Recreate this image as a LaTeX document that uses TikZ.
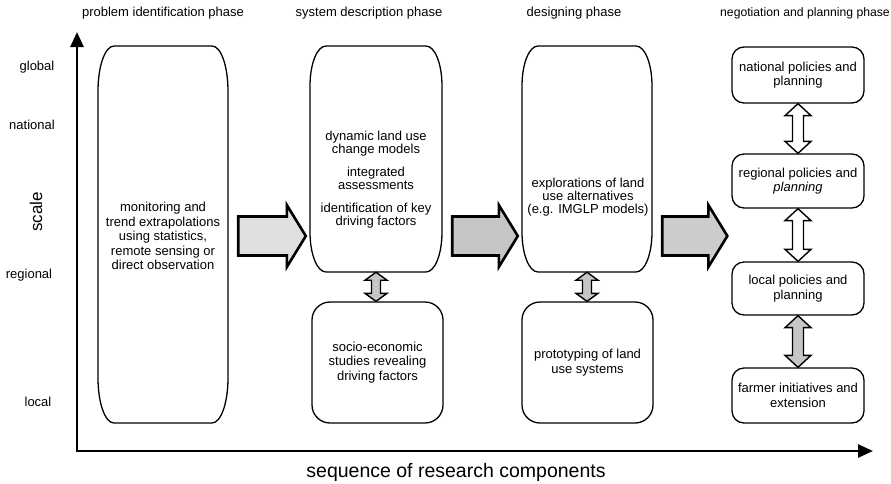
\documentclass[tikz,border=0pt]{standalone}
\usepackage{fontspec}
\setmainfont{Liberation Sans}
\usetikzlibrary{calc,arrows.meta}

\tikzset{
  boxline/.style={draw=black, line width=1.3pt},
  roundbox/.style={draw=black, line width=1.3pt, rounded corners=#1, inner sep=0pt,
    align=center, font=\fontsize{13}{14.5}\selectfont},
  roundbox/.default=18pt,
  txt/.style={align=center, inner sep=0pt, font=\fontsize{13}{14.5}\selectfont},
  phase/.style={inner sep=0pt, font=\fontsize{13}{14}\selectfont},
  scalelbl/.style={inner sep=0pt, font=\fontsize{13}{14}\selectfont},
  bigarrow/.style={draw=black, line width=2.6pt, line join=miter, fill=#1},
  bigarrow/.default=gray!40,
  linkarrow/.style={draw=black, line width=1.4pt, line join=miter},
  axis/.style={line width=2.6pt, -{Triangle[length=15pt,width=13pt]}},
}

% tall box with elliptic corners: name, x1, y1, x2, y2, corner height
\newcommand\tallbox[6]{%
  \draw[boxline] (#2+16,#3) -- (#4-16,#3)
     .. controls (#4-7,#3) and (#4,#3+0.45*#6) .. (#4,#3+#6)
     -- (#4,#5-#6)
     .. controls (#4,#5-0.45*#6) and (#4-7,#5) .. (#4-16,#5)
     -- (#2+16,#5)
     .. controls (#2+7,#5) and (#2,#5-0.45*#6) .. (#2,#5-#6)
     -- (#2,#3+#6)
     .. controls (#2,#3+0.45*#6) and (#2+7,#3) .. cycle;
  \pgfmathsetmacro\bxw{#4-#2}%
  \pgfmathsetmacro\bxh{#5-#3}%
  \node[inner sep=0pt, minimum width=\bxw pt, minimum height=\bxh pt]
    (#1) at ({(#2+#4)/2},{(#3+#5)/2}) {};%
}

% vertical double-headed block arrow between two nodes
% from, to, half shaft, half head, head length, fill
\newcommand\dblarrow[6]{%
  \path[linkarrow, fill=#6] let \p1=(#1), \p2=(#2) in
    (\x1,\y1) -- (\x1+#4,\y1-#5) -- (\x1+#3,\y1-#5) -- (\x1+#3,\y2+#5)
    -- (\x1+#4,\y2+#5) -- (\x1,\y2) -- (\x1-#4,\y2+#5) -- (\x1-#3,\y2+#5)
    -- (\x1-#3,\y1-#5) -- (\x1-#4,\y1-#5) -- cycle;%
}

% horizontal block arrow from one phase to the next, at height #3
\newcommand\phasearrow[4]{%
  \path[bigarrow=#4] let \p1=(#1.east), \p2=(#2.west), \p3=(0,#3) in
    (\x1+10pt,\y3+19.5pt) -- (\x2-23pt,\y3+19.5pt) -- (\x2-23pt,\y3+31pt)
    -- (\x2-4pt,\y3) -- (\x2-23pt,\y3-31pt) -- (\x2-23pt,\y3-19.5pt)
    -- (\x1+10pt,\y3-19.5pt) -- cycle;%
}

\begin{document}
\begin{tikzpicture}[x=1pt,y=-1pt]
\useasboundingbox (0,0) rectangle (891,483);

% axes
\coordinate (origin) at (77,451);
\coordinate (ytop) at (77,32);
\coordinate (xend) at (873,451);
\draw[axis] (origin) -- (ytop);
\draw[axis] ([xshift=-1.3pt]origin) -- (xend);

% axis labels
\node[scalelbl] (lglobal) at (37,67) {global};
\node[scalelbl] (lnational) at (32,125) {national};
\node[scalelbl] (lregional) at (29,275) {regional};
\node[scalelbl] (llocal) at (38,402) {local};
\node[inner sep=0pt, rotate=90, font=\fontsize{17}{20}\selectfont] (lscale) at (36,212) {scale};
\node[inner sep=0pt, font=\fontsize{19.5}{22}\selectfont] (lseq) at (456,472) {sequence of research components};

% phase headings
\node[phase] (h1) at (163,13) {problem identification phase};
\node[phase] (h2) at (369,13) {system description phase};
\node[phase] (h3) at (574,13) {designing phase};
\node[phase, font=\fontsize{12.2}{14}\selectfont] (h4) at (805,13) {negotiation and planning phase};

% problem identification
\tallbox{mon}{98}{46}{228}{423}{45}
\node[txt] (montxt) at (163,236) {monitoring and\\trend extrapolations\\using statistics,\\remote sensing or\\direct observation};

% system description
\tallbox{dyn}{310}{46}{442}{272}{40}
\node[txt, font=\fontsize{13}{13}\selectfont] (dyntxt) at (376,180)
  {dynamic land use\\change models\\[10pt]integrated\\assessments\\[10pt]identification of key\\driving factors};
\node[roundbox, minimum width=131pt, minimum height=121pt] (soc) at (377.5,362.5)
  {socio-economic\\studies revealing\\driving factors};

% designing
\tallbox{expl}{522}{46}{652}{272}{40}
\node[txt, font=\fontsize{13}{13}\selectfont] (expltxt) at (588,197)
  {explorations of land\\use alternatives\\(e.g. IMGLP models)};
\node[roundbox, minimum width=131pt, minimum height=121pt] (proto) at (587.5,362.5)
  {prototyping of land\\use systems};

% negotiation and planning
\node[roundbox=12pt, minimum width=132pt, minimum height=56pt] (natp) at (798,75)
  {national policies and\\planning};
\node[roundbox=12pt, minimum width=132pt, minimum height=54pt] (regp) at (798,181)
  {regional policies and\\\textit{planning}};
\node[roundbox=12pt, minimum width=132pt, minimum height=53pt] (locp) at (798,288.5)
  {local policies and\\planning};
\node[roundbox=12pt, minimum width=132pt, minimum height=55pt] (farm) at (798,395.5)
  {farmer initiatives and\\extension};

% links between levels
\dblarrow{dyn.south}{soc.north}{4.5pt}{11pt}{8pt}{gray!45}
\dblarrow{expl.south}{proto.north}{4.5pt}{11pt}{8pt}{gray!45}
\dblarrow{natp.south}{regp.north}{5.5pt}{13pt}{12pt}{white}
\dblarrow{regp.south}{locp.north}{5.5pt}{13pt}{12pt}{white}
\dblarrow{locp.south}{farm.north}{5.5pt}{13pt}{12pt}{gray!45}

% phase transitions
\phasearrow{mon}{dyn}{236}{gray!25}
\phasearrow{dyn}{expl}{236}{gray!45}
\phasearrow{expl}{regp}{236}{gray!40}

\end{tikzpicture}
\end{document}
